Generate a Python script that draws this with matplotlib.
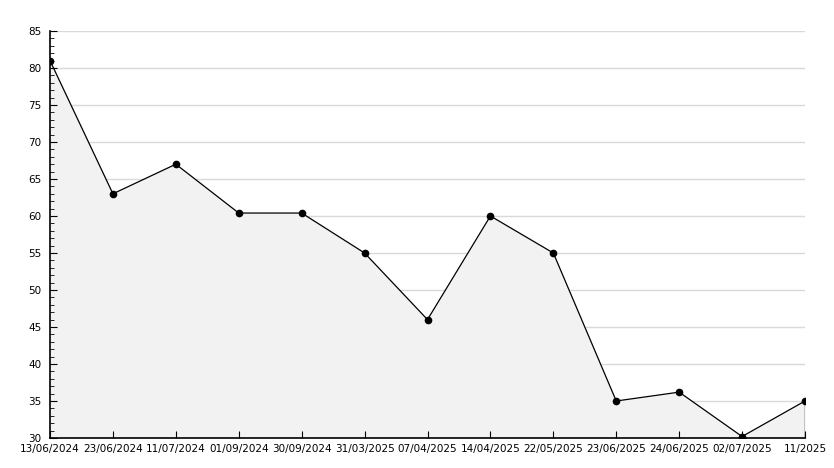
import matplotlib
matplotlib.use("Agg")
import matplotlib.pyplot as plt
from matplotlib.ticker import MultipleLocator

labels = ["13/06/2024", "23/06/2024", "11/07/2024", "01/09/2024", "30/09/2024",
          "31/03/2025", "07/04/2025", "14/04/2025", "22/05/2025", "23/06/2025",
          "24/06/2025", "02/07/2025", "11/2025"]
values = [81.0, 63.0, 67.0, 60.4, 60.4, 55.0, 46.0, 60.0, 55.0, 35.0, 36.2, 30.2, 35.0]
grid_levels = [35, 40, 45, 50, 55, 60, 65, 70, 75, 80, 85]

fig = plt.figure(figsize=(8.34, 4.68), dpi=100)
ax = fig.add_axes([50/834, 30/468, 755/834, 407/468])
x = list(range(len(values)))
for g in grid_levels:
    ax.axhline(g, color="#d9d9d9", lw=1, zorder=0.1)
ax.fill_between(x, values, 30, color="#f2f2f2", lw=0, zorder=1)
ax.plot([x[-1], x[-1]], [30, values[-1]], color="black", lw=1, zorder=2)
ax.plot(x, values, color="black", lw=0.9, marker="o", markersize=4.5, zorder=3)
ax.set_xlim(0, len(values) - 1)
ax.set_ylim(30, 85)
ax.yaxis.set_major_locator(MultipleLocator(5))
ax.yaxis.set_minor_locator(MultipleLocator(1))
ax.set_xticks(x)
ax.set_xticklabels(labels)
ax.set_axisbelow(False)
for s in ["top", "right"]:
    ax.spines[s].set_visible(False)
ax.spines["left"].set_linewidth(1.2)
ax.spines["bottom"].set_linewidth(1.2)
ax.tick_params(axis="y", which="major", direction="in", length=5, labelsize=7.5, pad=6)
ax.tick_params(axis="y", which="minor", direction="in", length=3)
ax.tick_params(axis="x", which="major", direction="in", length=5, labelsize=7.5, pad=4)
fig.savefig("out.png", dpi=100, facecolor="white")
